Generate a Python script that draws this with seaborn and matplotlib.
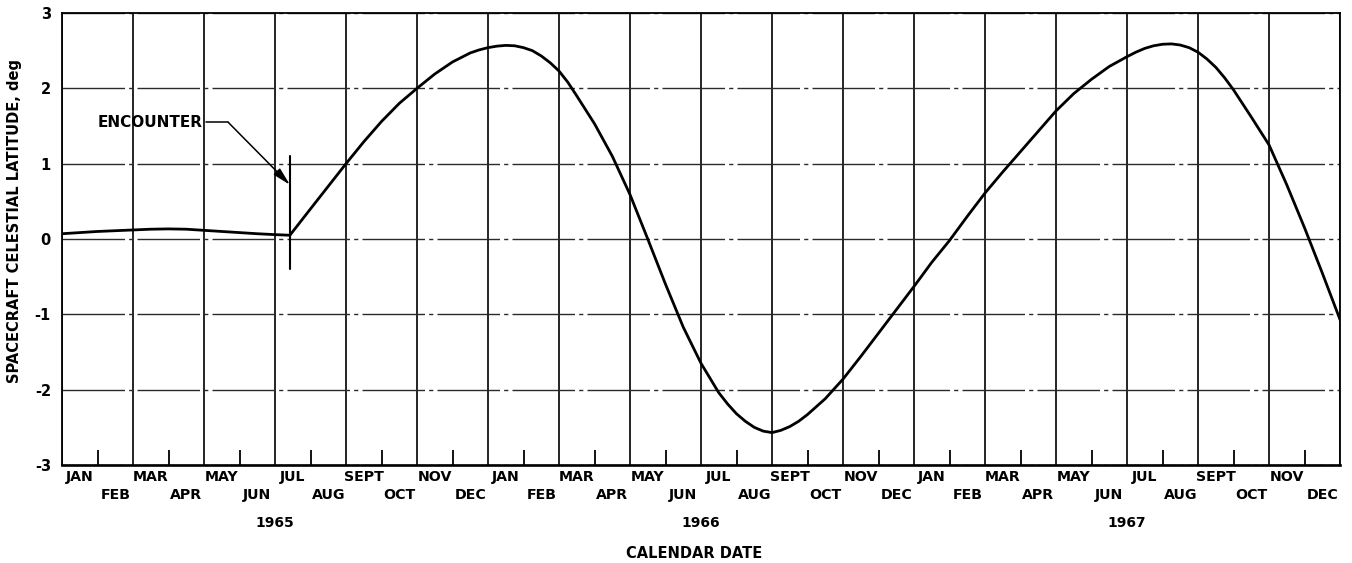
import matplotlib
matplotlib.use("Agg")
import matplotlib.pyplot as plt
import seaborn as sns
import pandas as pd

# Spacecraft celestial latitude (deg) vs. months elapsed since 1 Jan 1965
pre_months = [0.0, 0.5, 1.0, 1.5, 2.0, 2.5, 3.0, 3.5, 4.0, 4.5, 5.0, 5.5, 6.0, 6.42]
pre_lat = [0.07, 0.085, 0.10, 0.11, 0.12, 0.13, 0.134, 0.13, 0.115, 0.10, 0.085, 0.07, 0.058, 0.05]

post_months = [6.42, 7.0, 7.5, 8.0, 8.5, 9.0, 9.5, 10.0, 10.5, 11.0, 11.5, 11.75,
               12.0, 12.25, 12.5, 12.75, 13.0, 13.25, 13.5, 13.75, 14.0, 14.25,
               14.5, 15.0, 15.5, 16.0, 16.5, 17.0, 17.5, 18.0, 18.5, 18.75, 19.0,
               19.25, 19.5, 19.75, 20.0, 20.25, 20.5, 20.75, 21.0, 21.5, 22.0,
               22.5, 23.0, 23.5, 24.0, 24.5, 25.0, 25.5, 26.0, 26.5, 27.0, 27.5,
               28.0, 28.5, 29.0, 29.5, 30.0, 30.25, 30.5, 30.75, 31.0, 31.25,
               31.5, 31.75, 32.0, 32.25, 32.5, 32.75, 33.0, 33.5, 34.0, 34.5,
               35.0, 35.5, 36.0]
post_lat = [0.05, 0.40, 0.70, 1.00, 1.29, 1.56, 1.80, 2.00, 2.19, 2.35, 2.47, 2.51,
            2.54, 2.56, 2.57, 2.565, 2.54, 2.50, 2.43, 2.34, 2.23, 2.08,
            1.90, 1.53, 1.10, 0.59, 0.00, -0.60, -1.17, -1.65, -2.04, -2.19, -2.32,
            -2.42, -2.50, -2.55, -2.57, -2.54, -2.49, -2.42, -2.33, -2.12, -1.86,
            -1.56, -1.25, -0.94, -0.63, -0.31, -0.02, 0.30, 0.61, 0.89, 1.16, 1.43,
            1.70, 1.93, 2.12, 2.29, 2.42, 2.48, 2.53, 2.565, 2.585, 2.59,
            2.575, 2.54, 2.48, 2.39, 2.28, 2.14, 1.98, 1.62, 1.25, 0.72,
            0.15, -0.45, -1.07]

month_names = ["JAN", "FEB", "MAR", "APR", "MAY", "JUN",
               "JUL", "AUG", "SEPT", "OCT", "NOV", "DEC"]
years = ["1965", "1966", "1967"]
lat_ticks = [-3, -2, -1, 0, 1, 2, 3]

encounter_month = 6.42
encounter_bar = (-0.4, 1.1)
encounter_tip = 0.72

sns.set_theme(style="white")
plt.rcParams["font.family"] = ["DejaVu Sans"]
plt.rcParams["font.weight"] = "bold"
plt.rcParams["text.color"] = "black"
plt.rcParams["axes.labelcolor"] = "black"
plt.rcParams["xtick.color"] = "black"
plt.rcParams["ytick.color"] = "black"

fig = plt.figure(figsize=(13.52, 5.63), dpi=100)
W, H = 1352, 563
left, right, top, bottom = 62, 1340, 13, 465
ax = fig.add_axes([left / W, 1 - bottom / H, (right - left) / W, (bottom - top) / H])
ax.set_facecolor("white")

df = pd.concat([
    pd.DataFrame({"month": pre_months, "lat": pre_lat, "seg": "pre"}),
    pd.DataFrame({"month": post_months, "lat": post_lat, "seg": "post"}),
])
sns.lineplot(data=df, x="month", y="lat", units="seg", estimator=None, sort=False,
             color="black", lw=2.0, ax=ax, legend=False)
for ln in ax.get_lines():
    ln.set_solid_joinstyle("round")

n_months = 12 * len(years)
ax.set_xlim(0, n_months)
ax.set_ylim(-3, 3)

# full-height lines every other month, short ticks on the months between
ax.set_xticks(range(0, n_months + 1, 2))
ax.set_xticks(range(1, n_months, 2), minor=True)
ax.tick_params(axis="x", which="major", length=0, labelbottom=False)
ax.tick_params(axis="x", which="minor", direction="in", length=10.5, width=1.3,
               color="black", bottom=True, top=False, labelbottom=False)
ax.xaxis.grid(True, which="major", color="black", lw=1.2)

ax.set_yticks(lat_ticks)
ax.set_yticklabels([str(t) for t in lat_ticks], fontsize=10.5, fontweight="bold",
                   color="black")
ax.tick_params(axis="y", length=0, pad=8)
ax.yaxis.grid(True, color="#2a2a2a", lw=1.0, linestyle=(0, (45, 3, 3, 3)))

for s in ax.spines.values():
    s.set_visible(True)
    s.set_color("black")
    s.set_linewidth(1.3)
ax.spines["bottom"].set_linewidth(1.9)

ax.set_xlabel("")
ax.set_ylabel("SPACECRAFT CELESTIAL LATITUDE, deg", fontsize=10.5, fontweight="bold",
              color="black")
ax.yaxis.set_label_coords(-0.031, 0.54)

# month names in two staggered rows, years and axis title below
tr = ax.get_xaxis_transform()
ah = bottom - top
for i in range(n_months):
    name = month_names[i % 12]
    ypix = 477 if i % 2 == 0 else 495
    ax.text(i + 0.5, -(ypix - bottom) / ah, name, transform=tr, ha="center",
            va="center", fontsize=10.2, fontweight="bold", color="black")
for k, yr in enumerate(years):
    ax.text(12 * k + 6, -(523 - bottom) / ah, yr, transform=tr, ha="center",
            va="center", fontsize=10, fontweight="bold", color="black")
ax.text(n_months / 2 - 0.2, -(553 - bottom) / ah, "CALENDAR DATE", transform=tr,
        ha="center", va="center", fontsize=10.5, fontweight="bold", color="black")

# encounter marker with a leader line and arrow
ax.plot([encounter_month, encounter_month], list(encounter_bar), color="black", lw=1.5)
ax.text(3.97, 1.55, "ENCOUNTER", ha="right", va="center", fontsize=11,
        fontweight="bold", color="black")
ax.plot([4.07, 4.68], [1.55, 1.55], color="black", lw=1.1)
ax.annotate("", xy=(encounter_month, encounter_tip), xytext=(4.68, 1.55),
            arrowprops=dict(arrowstyle="-|>,head_length=0.9,head_width=0.22",
                            color="black", lw=1.1, shrinkA=0, shrinkB=0))

fig.savefig("out.png", dpi=100, facecolor="white")
